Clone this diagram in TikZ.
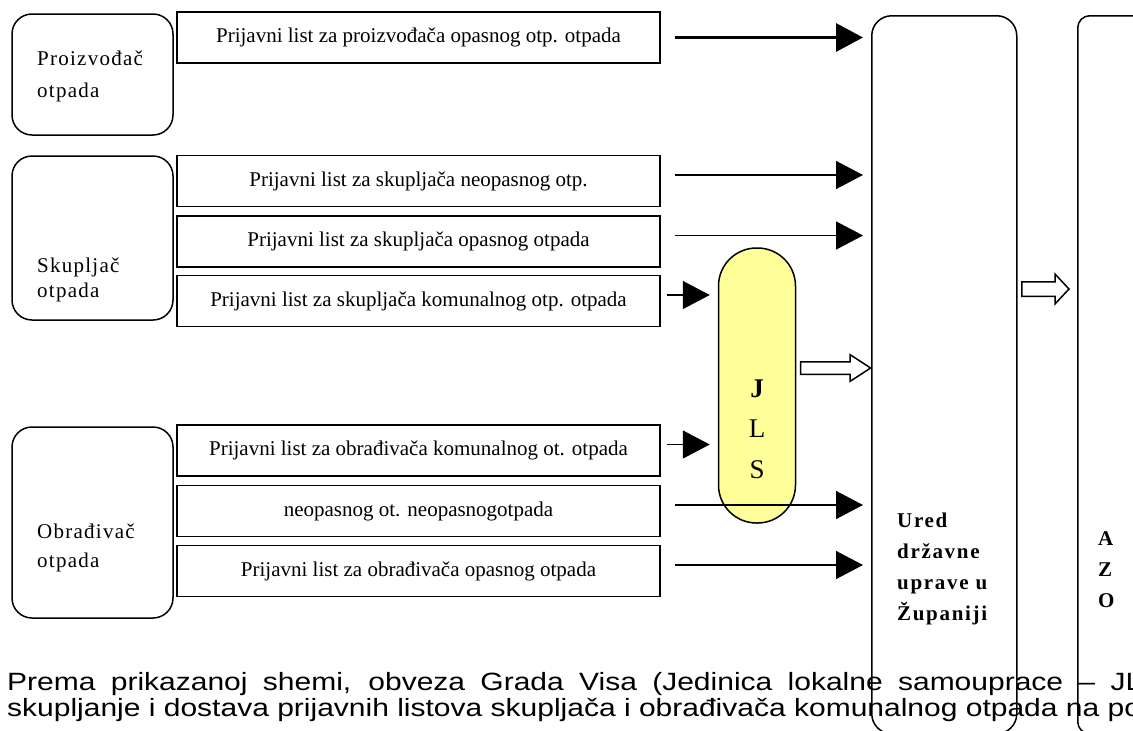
\documentclass[tikz,border=0pt]{standalone}
\usepackage{graphicx}
\usepackage{fontspec}
\setmainfont{Liberation Serif}
\newfontfamily\arialfont{Liberation Sans}
\usetikzlibrary{arrows.meta,shapes.arrows}
\definecolor{jlsyellow}{HTML}{FFFF99}

\begin{document}
\begin{tikzpicture}[x=1pt,y=-1pt,
    form/.style={draw,line width=1.5pt,minimum width=483pt,minimum height=51pt,inner sep=0pt,font=\fontsize{21}{25}\selectfont},
    actor/.style={draw,line width=1.5pt,rounded corners=20pt,minimum width=161pt,inner sep=0pt},
    actorlbl/.style={anchor=base west,align=left,inner sep=0pt,font=\fontsize{21}{25}\selectfont\addfontfeature{LetterSpace=6}},
    office/.style={draw,line width=1.5pt,anchor=north west,minimum height=718pt,inner sep=0pt},
    officelbl/.style={anchor=base west,align=left,inner sep=0pt,font=\bfseries\fontsize{21}{30.7}\selectfont\addfontfeature{LetterSpace=8}},
    arr/.style={line width=1.5pt,-{Triangle[length=27pt,width=28pt]},shorten >=8pt},
    hollow/.style={draw,fill=white,line width=1.5pt,single arrow,single arrow head indent=0pt,inner sep=0pt,text width=0pt,text depth=0pt,anchor=tip},
    para/.style={anchor=base west,inner sep=0pt,font=\arialfont\fontsize{25}{26}\selectfont}]
		\clip (0,0) rectangle (1133,731);

		% Offices
		\node[office,rounded corners=20pt,minimum width=145pt] (ured) at (871,15) {};
		\node[office,rounded corners=12pt,minimum width=90pt] (azo) at (1077,15) {};

		% Producer
		\node[actor,minimum height=121pt] (proizv) at (92.5,74.5) {};
		\node[form,line width=2.2pt] (p1) at (418.5,37.5) {Prijavni list za proizvođača opasnog otp. otpada};

		% Collector
		\node[actor,minimum height=164pt] (skup) at (92.5,238) {};
		\node[form] (s1) at (418.5,181) {Prijavni list za skupljača neopasnog otp.};
		\node[form] (s2) at (418.5,241.5) {Prijavni list za skupljača opasnog otpada};
		\node[form] (s3) at (418.5,301) {Prijavni list za skupljača komunalnog otp. otpada};

		% Processor
		\node[actor,minimum height=191pt] (obrad) at (92.5,522.5) {};
		\node[form] (o1) at (418.5,450.5) {Prijavni list za obrađivača komunalnog ot. otpada};
		\node[form] (o2) at (418.5,511) {neopasnog ot. neopasnogotpada};
		\node[form] (o3) at (418.5,571) {Prijavni list za obrađivača opasnog otpada};

		% JLS
		\node[draw,fill=jlsyellow,line width=1.5pt,rounded corners=38pt,minimum width=77pt,minimum height=275pt,inner sep=0pt] (jls) at (757,385.5) {};

		% Arrows
		\draw[arr,line width=3.2pt] ([xshift=14pt]p1.east) -- (p1.east -| ured.west);
		\draw[arr] ([shift={(14pt,6pt)}]s1.east) -- ([yshift=6pt]s1.east -| ured.west);
		\draw[arr] ([shift={(14pt,6pt)}]s2.east) -- ([yshift=6pt]s2.east -| ured.west);
		\draw[arr] ([shift={(6pt,6pt)}]s3.east) -- ([yshift=6pt]s3.east -| jls.west);
		\draw[arr] ([shift={(6pt,6pt)}]o1.east) -- ([yshift=6pt]o1.east -| jls.west);
		\draw[arr] ([shift={(14pt,6pt)}]o2.east) -- ([yshift=6pt]o2.east -| ured.west);
		\draw[arr] ([shift={(14pt,6pt)}]o3.east) -- ([yshift=6pt]o3.east -| ured.west);
		\node[hollow,text height=11pt,minimum height=70pt,single arrow head extend=7pt,single arrow tip angle=66] (toured) at (872,368) {};
		\node[hollow,text height=13pt,minimum height=47pt,single arrow head extend=7.5pt,single arrow tip angle=94] (toazo) at (1070,289) {};

		% Labels
		\node[actorlbl] (proizvtxt) at (37,97) {Proizvođač\\[7pt]otpada};
		\node[actorlbl] (skuptxt) at (37,297) {Skupljač\\otpada};
		\node[actorlbl] (obradtxt) at (37,567) {Obrađivač\\[4pt]otpada};
		\node[anchor=base,inner sep=0pt,font=\fontsize{27}{40.5}\selectfont,align=center] (jlstxt) at (757,478) {\textbf{J}\\L\\S};
		\node[officelbl] (uredtxt) at (897,620) {Ured\\državne\\uprave u\\Županiji};
		\node[officelbl] (azotxt) at (1098,607) {A\\Z\\O};

		% Text below
		\node[para] (para1) at (7,690) {\scalebox{1.2}[1]{\makebox[946pt][s]{Prema prikazanoj shemi, obveza Grada Visa (Jedinica lokalne samouprace – JL}}};
		\node[para] (para2) at (7,716) {\scalebox{1.2}[1]{skupljanje i dostava prijavnih listova skupljača i obrađivača komunalnog otpada na po}};
	\end{tikzpicture}
\end{document}
